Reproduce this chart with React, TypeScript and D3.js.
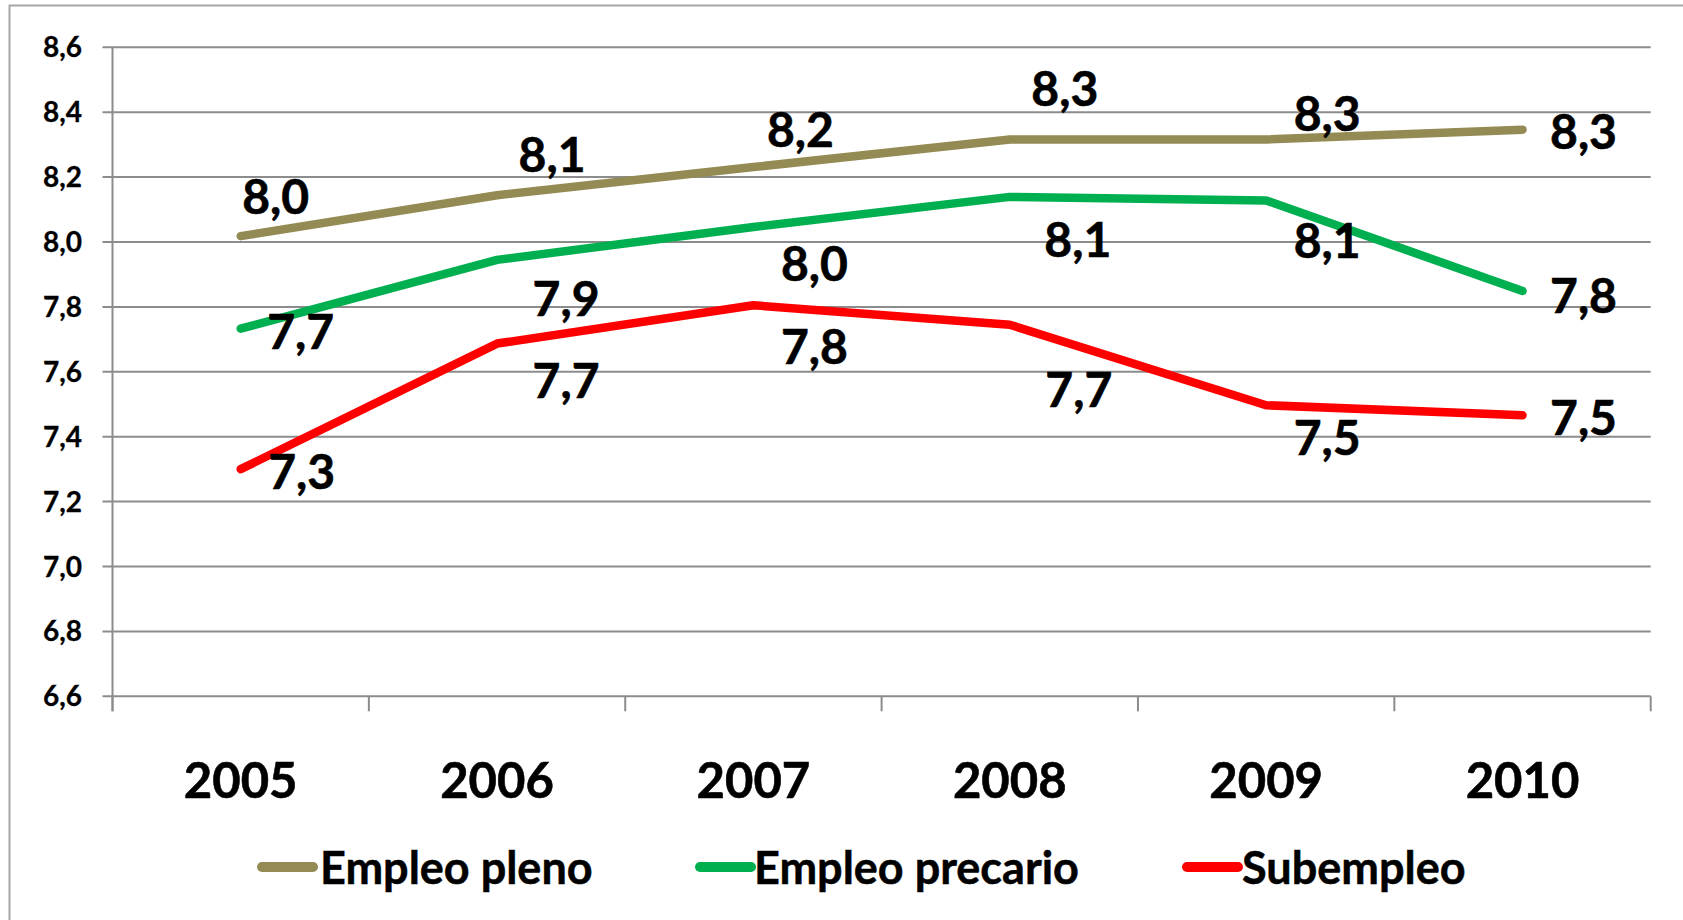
import React from "react";
import * as d3 from "d3";

const years = ["2005", "2006", "2007", "2008", "2009", "2010"];
const empleoPleno = [8.018, 8.144, 8.231, 8.316, 8.316, 8.346];
const empleoPrecario = [7.733, 7.945, 8.046, 8.139, 8.128, 7.849];
const subempleo = [7.3, 7.687, 7.805, 7.745, 7.497, 7.466];
const yTicks = [6.6, 6.8, 7.0, 7.2, 7.4, 7.6, 7.8, 8.0, 8.2, 8.4, 8.6];
const seriesNames = ["Empleo pleno", "Empleo precario", "Subempleo"];

// label placement offsets (px) relative to each point
const labelOffsets = [
  [[35, -39], [55, -40], [47, -37], [55, -51], [61, -26], [61, 2]],
  [[60, 3], [69, 39], [61, 37], [68, 43], [61, 40], [61, 5]],
  [[61, 3], [69, 37], [61, 42], [69, 65], [61, 33], [61, 3]],
];
const colors = ["#948A54", "#00B050", "#FF0000"];
const legendSwatchX = [262, 700, 1187];
const legendTextX = [320, 754, 1242];

const FONT = "Lato, 'Open Sans', sans-serif";

export default function App() {
  const W = 1683;
  const H = 920;
  const x0 = 112.5;
  const x1 = 1650.7;
  const yTop = 47.3;
  const yBot = 696.3;

  const x = d3.scaleBand<string>().domain(years).range([x0, x1]).padding(0);
  const y = d3.scaleLinear().domain([6.6, 8.6]).range([yBot, yTop]);
  const cx = (yr: string) => (x(yr) as number) + x.bandwidth() / 2;

  const data = [empleoPleno, empleoPrecario, subempleo];
  const line = d3
    .line<number>()
    .x((_, i) => cx(years[i]))
    .y((v) => y(v));

  const fmt = (v: number) => d3.format(".1f")(v).replace(".", ",");
  const boundaries = [...years.map((yr) => x(yr) as number), x1];

  const tickFs = 28;
  const yearFs = 49;
  const labelFs = 48;
  const legendFs = 45;

  return (
    <svg
      width={W}
      height={H}
      style={{ position: "absolute", left: 0, top: 0, background: "#fff" }}
    >
      <rect x={0} y={0} width={W} height={H} fill="#fff" />
      <path
        d={`M${W + 5},5.5 H9.5 V${H + 5}`}
        fill="none"
        stroke="#A6A6A6"
        strokeWidth={2}
      />
      {/* gridlines */}
      {yTicks.map((t) => (
        <line
          key={t}
          x1={x0 - 10}
          x2={x1}
          y1={y(t)}
          y2={y(t)}
          stroke="#8C8C8C"
          strokeWidth={2}
        />
      ))}
      {/* y axis */}
      <line x1={x0} x2={x0} y1={yTop} y2={yBot + 15} stroke="#8C8C8C" strokeWidth={2} />
      {boundaries.map((bx, i) => (
        <line key={i} x1={bx} x2={bx} y1={yBot} y2={yBot + 15} stroke="#8C8C8C" strokeWidth={2} />
      ))}
      {yTicks.map((t) => (
        <text
          key={t}
          x={82}
          y={y(t) + 0.358 * tickFs}
          textAnchor="end"
          fontFamily={FONT}
          fontWeight={700}
          fontSize={tickFs}
          fill="#000"
          stroke="#000"
          strokeWidth={0.3}
        >
          {fmt(t)}
        </text>
      ))}
      {years.map((yr) => (
        <text
          key={yr}
          x={cx(yr)}
          y={780.5 + 0.358 * yearFs}
          textAnchor="middle"
          fontFamily={FONT}
          fontWeight={700}
          fontSize={yearFs}
          fill="#000"
          stroke="#000"
          strokeWidth={0.6}
        >
          {yr}
        </text>
      ))}
      {data.map((vals, si) => (
        <path
          key={si}
          d={line(vals) as string}
          fill="none"
          stroke={colors[si]}
          strokeWidth={8.5}
          strokeLinecap="round"
          strokeLinejoin="round"
        />
      ))}
      {data.map((vals, si) =>
        vals.map((v, i) => (
          <text
            key={`${si}-${i}`}
            x={cx(years[i]) + labelOffsets[si][i][0]}
            y={y(v) + labelOffsets[si][i][1] + 0.358 * labelFs}
            textAnchor="middle"
            fontFamily={FONT}
            fontWeight={700}
            fontSize={labelFs}
            fill="#000"
            stroke="#000"
            strokeWidth={0.6}
          >
            {fmt(v)}
          </text>
        ))
      )}
      {seriesNames.map((name, si) => (
        <g key={name}>
          <line
            x1={legendSwatchX[si]}
            x2={legendSwatchX[si] + 51}
            y1={867}
            y2={867}
            stroke={colors[si]}
            strokeWidth={10}
            strokeLinecap="round"
          />
          <text
            x={legendTextX[si]}
            y={868 + 0.358 * legendFs}
            fontFamily={FONT}
            fontWeight={700}
            fontSize={legendFs}
            fill="#000"
            stroke="#000"
            strokeWidth={0.5}
          >
            {name}
          </text>
        </g>
      ))}
    </svg>
  );
}
